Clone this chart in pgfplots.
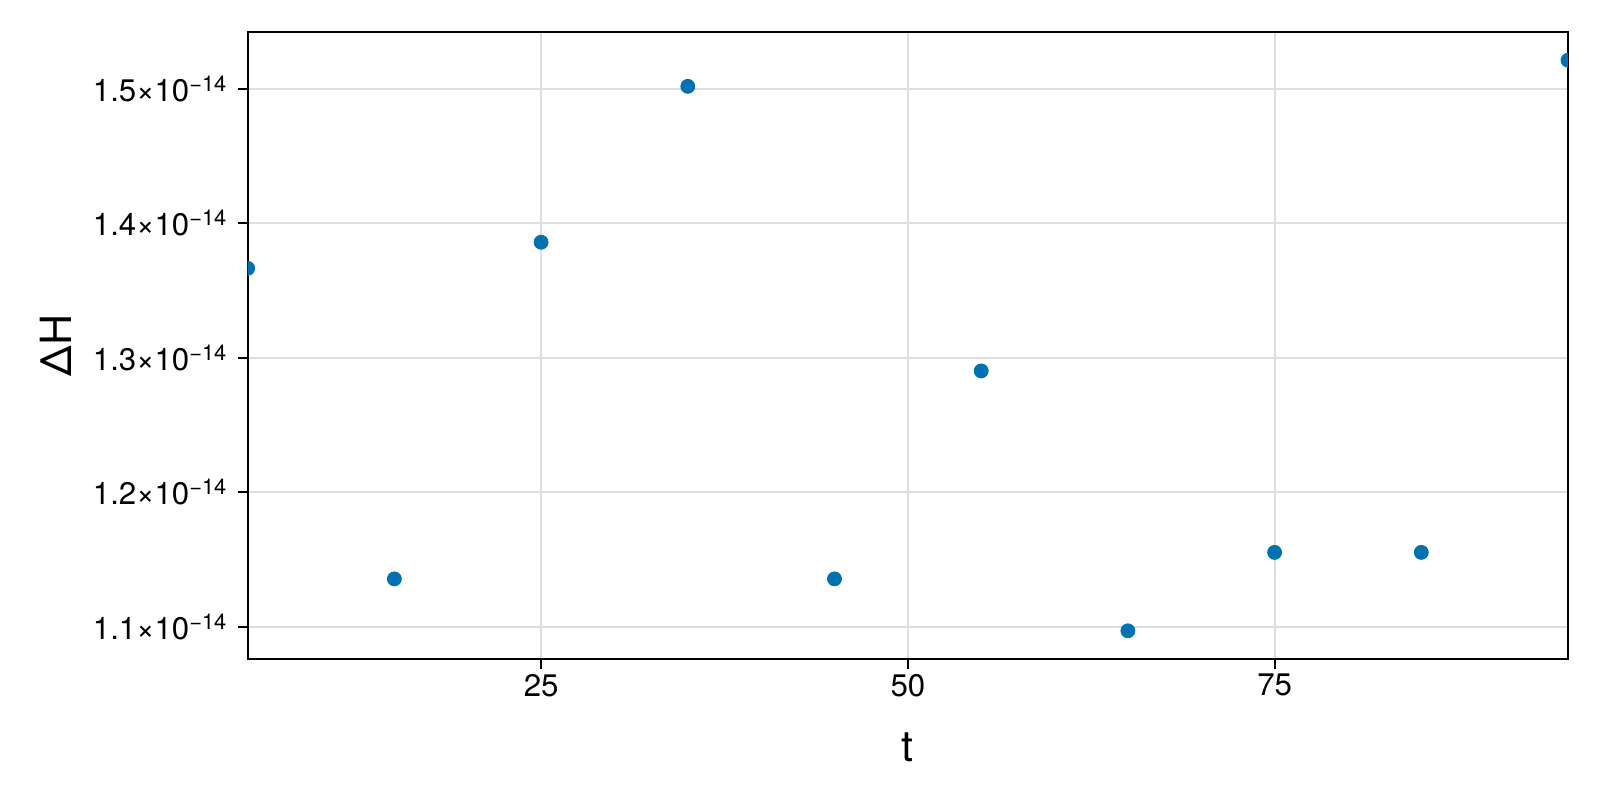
\documentclass[border=0pt]{standalone}
\usepackage{fontspec}
\setmainfont{TeX Gyre Heros}
\usepackage{pgfplots}
\pgfplotsset{compat=1.18}

\definecolor{makieblue}{RGB}{0,114,178}
\newcommand{\sci}[1]{#1×10\textsuperscript{−14}}

\begin{document}
\begin{tikzpicture}
\useasboundingbox (-123.85pt,-70.35pt) rectangle (676.15pt,329.65pt);
\begin{axis}[
  at={(0pt,0pt)}, anchor=south west,
  scale only axis,
  width=660.15pt, height=313.65pt,
  xmin=5, xmax=95,
  ymin=1.0758e-14, ymax=1.5422e-14,
  xtick={25,50,75},
  ytick={1.1e-14,1.2e-14,1.3e-14,1.4e-14,1.5e-14},
  yticklabels={\sci{1.1},\sci{1.2},\sci{1.3},\sci{1.4},\sci{1.5}},
  scaled y ticks=false,
  tick align=outside,
  major tick length=5pt,
  tick style={black, line width=1pt},
  xtick pos=bottom, ytick pos=left,
  axis line style={line width=1pt},
  grid=major,
  major grid style={black!13, line width=1pt},
  tick label style={font=\fontsize{15.6}{18}\selectfont},
  /pgf/number format/assume math mode=true,
  x tick label style={inner sep=0pt, anchor=center, yshift=-8pt},
  y tick label style={inner sep=0pt, anchor=east, xshift=-5pt},
  xlabel={t},
  ylabel={ΔH},
  label style={font=\fontsize{21.5}{24}\selectfont},
  xlabel style={at={(axis description cs:0.5,0)}, anchor=center, yshift=-44pt},
  ylabel style={at={(axis description cs:0,0.5)}, anchor=center, rotate=0, yshift=96pt},
  clip marker paths=true,
]
\addplot[only marks, mark=*, mark size=3.5pt, color=makieblue, mark options={draw=none, fill=makieblue}] coordinates {
  (5, 1.3665e-14)
  (15, 1.1356e-14)
  (25, 1.3859e-14)
  (35, 1.5018e-14)
  (45, 1.1356e-14)
  (55, 1.2902e-14)
  (65, 1.0970e-14)
  (75, 1.1553e-14)
  (85, 1.1553e-14)
  (95, 1.5212e-14)
};
\end{axis}
\end{tikzpicture}
\end{document}
